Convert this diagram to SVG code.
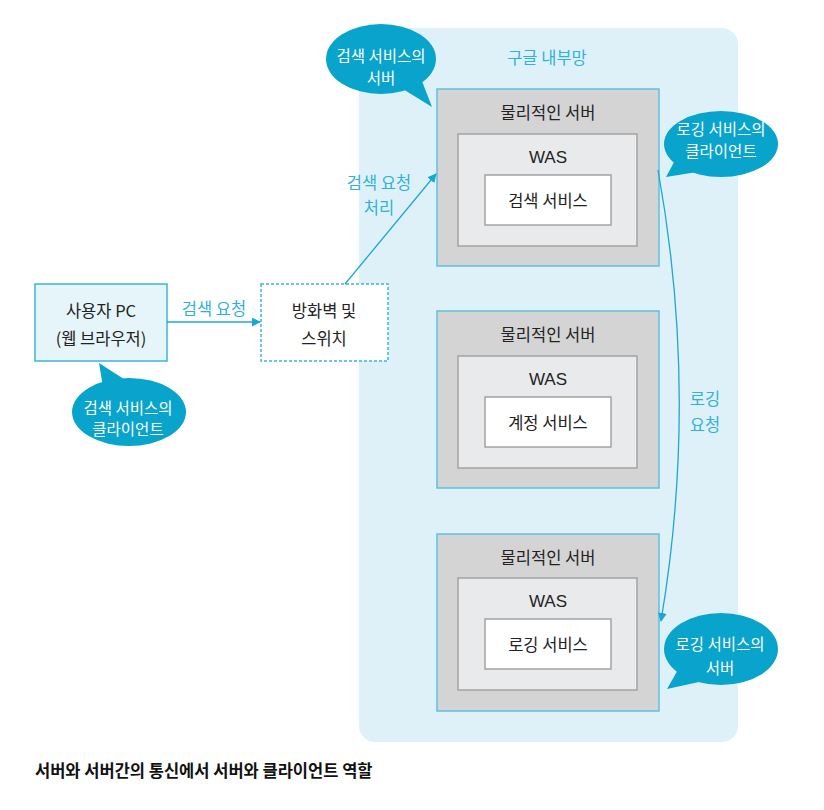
<svg xmlns="http://www.w3.org/2000/svg" width="824" height="810" viewBox="0 0 824 810">
<style>
text{font-family:"Noto Sans CJK KR","Noto Sans",sans-serif;text-anchor:middle;dominant-baseline:central}
.dk{fill:#222;font-size:16.5px}
.was-t{fill:#222;font-size:17px;font-family:"Liberation Sans","Noto Sans CJK KR",sans-serif}
.bl{fill:#2fb1d8;font-size:16.5px}
.wt{fill:#fff;font-size:15.5px}
.srv{fill:#d4d4d4;stroke:#5dc1e0;stroke-width:1.5}
.was{fill:#e9eaec;stroke:#a3a3a3;stroke-width:1.5}
.svc{fill:#fff;stroke:#a3a3a3;stroke-width:1.5}
.bub{fill:#08a4cb}
.ln{fill:none;stroke:#1aa8d2;stroke-width:1.3}
</style>
<defs>
<marker id="ah" viewBox="0 0 10 10" refX="9" refY="5" markerWidth="9" markerHeight="9" markerUnits="userSpaceOnUse" orient="auto">
<path d="M0,0 L10,5 L0,10 z" fill="#1aa8d2"/>
</marker>
</defs>
<rect width="824" height="810" fill="#fff"/>
<g id="network">
<rect x="359" y="28" width="379" height="714" rx="16" fill="#dff1f8"/>
<text class="bl" x="547" y="57">구글 내부망</text>
</g>
<g id="pc">
<rect x="35" y="284" width="132" height="77" fill="#e6f5fa" stroke="#3bb5d8" stroke-width="1.5"/>
<text class="dk" x="101" y="310">사용자 PC</text>
<text class="dk" x="101" y="338">(웹 브라우저)</text>
</g>
<g id="firewall">
<rect x="261" y="284" width="127" height="77" fill="#fff" stroke="#3bb5d8" stroke-width="1.5" stroke-dasharray="3,2"/>
<text class="dk" x="324" y="310">방화벽 및</text>
<text class="dk" x="324" y="338">스위치</text>
</g>
<g id="server1">
<rect class="srv" x="437" y="89" width="222" height="177"/>
<text class="dk" x="548" y="112">물리적인 서버</text>
<rect class="was" x="458" y="134" width="179" height="112"/>
<text class="was-t" x="548" y="157">WAS</text>
<rect class="svc" x="485" y="175" width="126" height="50"/>
<text class="dk" x="548" y="200">검색 서비스</text>
</g>
<g id="server2">
<rect class="srv" x="437" y="311" width="222" height="177"/>
<text class="dk" x="548" y="334">물리적인 서버</text>
<rect class="was" x="458" y="356" width="179" height="112"/>
<text class="was-t" x="548" y="379">WAS</text>
<rect class="svc" x="485" y="397" width="126" height="50"/>
<text class="dk" x="548" y="422">계정 서비스</text>
</g>
<g id="server3">
<rect class="srv" x="437" y="534" width="222" height="177"/>
<text class="dk" x="548" y="557">물리적인 서버</text>
<rect class="was" x="458" y="578" width="179" height="112"/>
<text class="was-t" x="548" y="601">WAS</text>
<rect class="svc" x="485" y="619" width="126" height="50"/>
<text class="dk" x="548" y="644">로깅 서비스</text>
</g>
<g id="connectors">
<line class="ln" x1="167" y1="322" x2="260" y2="322" marker-end="url(#ah)"/>
<text class="bl" x="214" y="308">검색 요청</text>
<line class="ln" x1="345" y1="284" x2="436" y2="174" marker-end="url(#ah)"/>
<text class="bl" x="379" y="182">검색 요청</text>
<text class="bl" x="379" y="207">처리</text>
<path class="ln" d="M658,170 Q699,396 661,621" marker-end="url(#ah)"/>
<text class="bl" x="705" y="398">로깅</text>
<text class="bl" x="705" y="424">요청</text>
</g>
<g id="bubble-search-server">
<path class="bub" d="M398,86 L432,107 L420,76 z"/>
<ellipse class="bub" cx="381" cy="59" rx="55" ry="35"/>
<text class="wt" x="381" y="55">검색 서비스의</text>
<text class="wt" x="381" y="77">서버</text>
</g>
<g id="bubble-log-client">
<path class="bub" d="M679,153 L666,177 L697,172 z"/>
<ellipse class="bub" cx="721" cy="144" rx="57" ry="33"/>
<text class="wt" x="721" y="128">로깅 서비스의</text>
<text class="wt" x="721" y="150">클라이언트</text>
</g>
<g id="bubble-search-client">
<path class="bub" d="M99,363 L104,393 L130,383 z"/>
<ellipse class="bub" cx="129" cy="412" rx="57" ry="34"/>
<text class="wt" x="128" y="407">검색 서비스의</text>
<text class="wt" x="128" y="428">클라이언트</text>
</g>
<g id="bubble-log-server">
<path class="bub" d="M679,668 L667,689 L699,682 z"/>
<ellipse class="bub" cx="721" cy="649" rx="57" ry="36"/>
<text class="wt" x="720" y="643">로깅 서비스의</text>
<text class="wt" x="720" y="667">서버</text>
</g>
<g id="caption">
<text x="35" y="770" style="text-anchor:start;font-size:16.5px;font-weight:bold;fill:#111">서버와 서버간의 통신에서 서버와 클라이언트 역할</text>
</g>
</svg>
